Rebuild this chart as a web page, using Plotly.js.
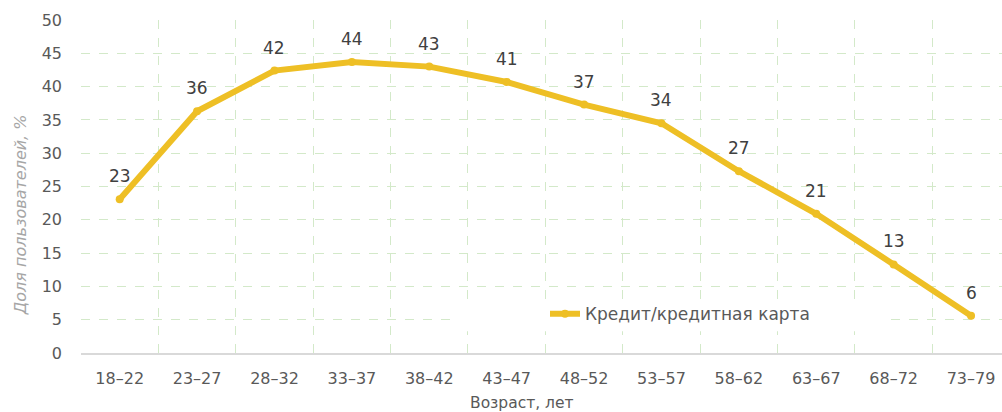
<!DOCTYPE html>
<html><head><meta charset="utf-8">
<script src="https://cdn.plot.ly/plotly-3.0.1.min.js"></script>
<style>html,body{margin:0;padding:0;background:#fff;}#chart{width:1002px;height:412px;}</style>
</head><body><div id="chart"></div>
<script>
const categories = ["18–22","23–27","28–32","33–37","38–42","43–47","48–52","53–57","58–62","63–67","68–72","73–79"];
const values = [23.1, 36.3, 42.4, 43.7, 43.0, 40.7, 37.3, 34.5, 27.3, 20.9, 13.3, 5.6];
const labels = ["23","36","42","44","43","41","37","34","27","21","13","6"];
const seriesName = "Кредит/кредитная карта";
const xTitle = "Возраст, лет";
const yTitle = "Доля пользователей, %";

const FONT = "DejaVu Sans, Verdana, sans-serif";
const lineColor = "#EEBF25";
const gridColor = "#d3e9c9";
const PW = 921, PH = 332.7, L = 81, B = 352.7;

const trace = {
  x: categories, y: values, type: "scatter", mode: "lines+markers",
  name: seriesName,
  line: {color: lineColor, width: 6},
  marker: {color: lineColor, size: 8},
  hoverinfo: "skip"
};

const annotations = categories.map((c, i) => ({
  x: c, y: values[i], xref: "x", yref: "y", text: labels[i], showarrow: false,
  yshift: 23, font: {family: FONT, size: 17, color: "#404040"}
}));
annotations.push({
  xref: "paper", yref: "paper", x: (522 - L) / PW, y: (B - 403) / PH,
  xanchor: "center", yanchor: "middle",
  text: xTitle, showarrow: false, font: {family: FONT, size: 15.5, color: "#595959"}
});
annotations.push({
  xref: "paper", yref: "paper", x: (20 - L) / PW, y: (B - 215) / PH,
  xanchor: "center", yanchor: "middle",
  text: "<i>" + yTitle + "</i>", textangle: -90, showarrow: false,
  font: {family: FONT, size: 16, color: "#a6a6a6"}
});

const layout = {
  width: 1002, height: 412,
  margin: {l: L, r: 0, t: 20, b: 412 - B, pad: 0},
  paper_bgcolor: "#fff", plot_bgcolor: "#fff",
  font: {family: FONT, color: "#595959"},
  showlegend: true,
  legend: {
    x: (545 - L) / PW, y: (B - 314) / PH, xanchor: "left", yanchor: "middle",
    bgcolor: "rgba(255,255,255,0)", font: {family: FONT, size: 17, color: "#595959"},
    borderwidth: 0
  },
  shapes: [{
    type: "rect", xref: "paper", yref: "paper", layer: "above",
    x0: (453 - L) / PW, x1: (883 - L) / PW, y0: (B - 331) / PH, y1: (B - 301) / PH,
    fillcolor: "#fff", line: {width: 0}
  }],
  xaxis: {
    type: "category", range: [-0.5, 11.4], tickson: "boundaries",
    showgrid: true, gridcolor: gridColor, griddash: "dash", gridwidth: 1,
    showline: true, linecolor: "#d9d9d9", linewidth: 2,
    ticks: "", tickfont: {family: FONT, size: 16, color: "#595959"},
    ticklabelstandoff: 10, zeroline: false, fixedrange: true
  },
  yaxis: {
    range: [0, 50], dtick: 5, tick0: 0,
    showgrid: true, gridcolor: gridColor, griddash: "dash", gridwidth: 1,
    showline: false, zeroline: false, ticks: "",
    tickfont: {family: FONT, size: 16, color: "#595959"},
    ticklabelstandoff: 18, fixedrange: true
  },
  annotations: annotations
};

Plotly.newPlot("chart", [trace], layout, {displayModeBar: false, staticPlot: true});
</script>
</body></html>
